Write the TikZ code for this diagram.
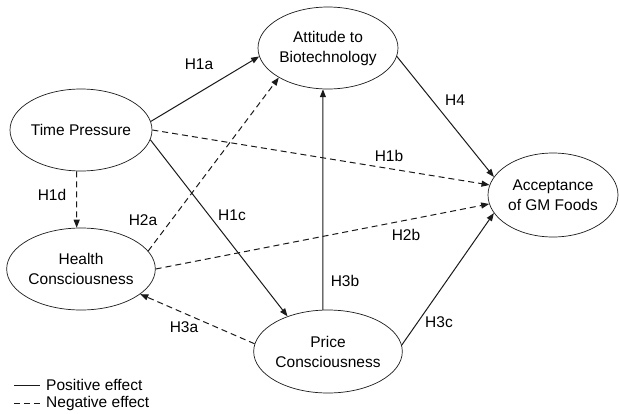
\documentclass[tikz,border=0pt]{standalone}
\usepackage{fontspec}
\setmainfont{Liberation Sans}
\usepackage{tikz}
\usetikzlibrary{positioning,arrows.meta,shapes.geometric}
\definecolor{pathInk}{HTML}{1A1A1A}

\begin{document}
\begin{tikzpicture}[x=1pt,y=-1pt,
    construct/.style={draw=pathInk,ellipse,line width=0.7pt,minimum width=142pt,minimum height=82pt,
      inner sep=0pt,align=center,font=\fontsize{15.5}{20}\selectfont},
    hyp/.style={font=\fontsize{15.5}{18}\selectfont,inner sep=0pt},
    poslink/.style={draw=pathInk,line width=1pt,-{Triangle[length=8pt,width=6pt]}},
    neglink/.style={poslink,dash pattern=on 6pt off 4pt}]
      \useasboundingbox (0,0) rectangle (619,413);
      \node[construct] (time) at (81,130) {Time Pressure};
      \node[construct] (health) at (81,269) {Health\\Consciousness};
      \node[construct,minimum width=140pt] (attitude) at (328,48) {Attitude to\\Biotechnology};
      \node[construct,minimum width=140pt,minimum height=83pt] (price) at (328,351.5) {Price\\Consciousness};
      \node[construct,minimum width=130pt,minimum height=84pt] (accept) at (553,195) {Acceptance\\of GM Foods};
      % hypothesised paths
      \draw[poslink] (time.7) -- (attitude.187);
      \draw[neglink] (time.0) -- (accept.171);
      \draw[poslink] (time.-8) -- (price.139);
      \draw[neglink] (time.-96) -- (health.96);
      \draw[neglink] (health.15) -- (attitude.211);
      \draw[neglink] (health.0) -- (accept.188);
      \draw[neglink] (price.174) -- (health.-23);
      \draw[poslink] (price.97) -- (attitude.-97);
      \draw[poslink] (price.5) -- (accept.197);
      \draw[poslink] (attitude.-7) -- (accept.163);
      % path labels
      \node[hyp] (h1a) at (199,64) {H1a};
      \node[hyp] (h1b) at (389,156) {H1b};
      \node[hyp] (h1c) at (232,215) {H1c};
      \node[hyp] (h1d) at (52,195) {H1d};
      \node[hyp] (h2a) at (143,220) {H2a};
      \node[hyp] (h2b) at (406,235) {H2b};
      \node[hyp] (h3a) at (184,327) {H3a};
      \node[hyp] (h3b) at (345,281) {H3b};
      \node[hyp] (h3c) at (439,322) {H3c};
      \node[hyp] (h4) at (455,100) {H4};
      % legend
      \node[hyp,anchor=west] (postxt) at (46,385) {Positive effect};
      \node[hyp,anchor=west] (negtxt) at (46,403) {Negative effect};
      \draw[pathInk,line width=1pt] ([xshift=-32pt]postxt.west) -- ([xshift=-6pt]postxt.west);
      \draw[pathInk,line width=1pt,dash pattern=on 6pt off 4pt] ([xshift=-32pt]negtxt.west) -- ([xshift=-6pt]negtxt.west);
    \end{tikzpicture}
\end{document}
